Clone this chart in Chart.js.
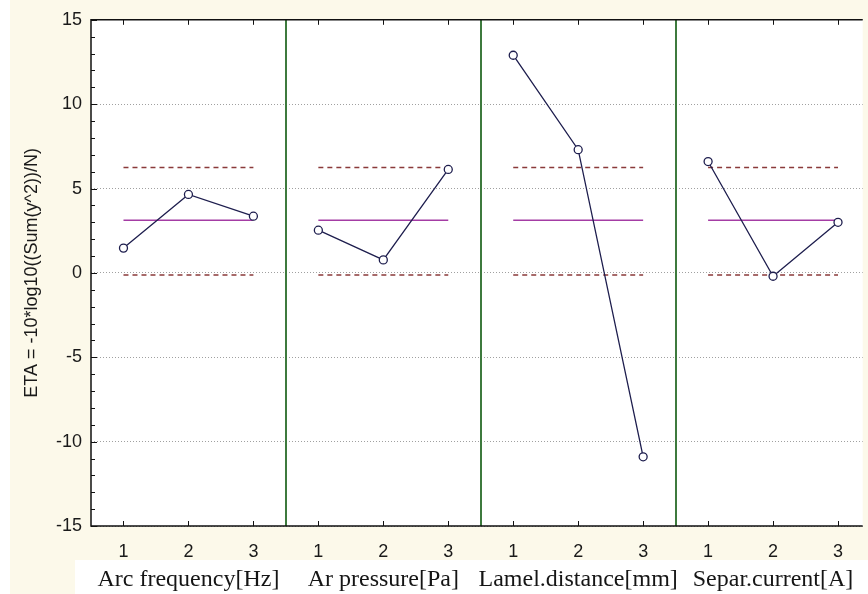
<!DOCTYPE html>
<html>
<head>
<meta charset="utf-8">
<style>
  html, body { margin: 0; padding: 0; background: #ffffff; overflow: hidden; }
  #wrap { width: 868px; height: 594px; }
</style>
</head>
<body>
<div id="wrap">
    <canvas id="etaChart" width="868" height="594"></canvas>
</div>
<script src="https://cdn.jsdelivr.net/npm/chart.js"></script>
<script>
// data
var factorNames = ['Arc frequency[Hz]', 'Ar pressure[Pa]', 'Lamel.distance[mm]', 'Separ.current[A]'];
var levels = [1, 2, 3];
var etaArcFrequency = [1.47, 4.65, 3.36];
var etaArPressure = [2.53, 0.77, 6.13];
var etaLamelDistance = [12.9, 7.3, -10.9];
var etaSeparCurrent = [6.6, -0.2, 3.0];
var grandMean = 3.12;
var upperLimit = 6.25;
var lowerLimit = -0.13;
var yTicks = [-15, -10, -5, 0, 5, 10, 15];

var factorEta = [etaArcFrequency, etaArPressure, etaLamelDistance, etaSeparCurrent];
var nLev = levels.length;

// x position of a level inside panel k
function xOf(k, lev) { return k * nLev + lev; }

// horizontal reference line over every panel, broken between panels
function refLine(v) {
    var pts = [];
    factorNames.forEach(function (n, k) {
        pts.push({x: xOf(k, levels[0]), y: v});
        pts.push({x: xOf(k, levels[nLev - 1]), y: v});
        pts.push({x: xOf(k, levels[nLev - 1]) + 0.5, y: null});
    });
    return pts;
}

var datasets = [];
factorEta.forEach(function (vals, k) {
    datasets.push({
        label: factorNames[k],
        data: levels.map(function (l, i) { return {x: xOf(k, l), y: vals[i]}; }),
        borderColor: '#1e1e4e',
        borderWidth: 1.3,
        pointStyle: 'circle',
        pointRadius: 4,
        pointBorderWidth: 1.3,
        pointBorderColor: '#1e1e4e',
        pointBackgroundColor: '#ffffff'
    });
});
datasets.push({
    label: 'mean',
    data: refLine(grandMean),
    borderColor: '#a43ca4',
    borderWidth: 1.5,
    pointRadius: 0,
    spanGaps: false
});
[upperLimit, lowerLimit].forEach(function (v) {
    datasets.push({
        label: 'limit',
        data: refLine(v),
        borderColor: '#8a3a3a',
        borderWidth: 1.5,
        borderDash: [5, 4],
        pointRadius: 0,
        spanGaps: false
    });
});

var panelPlugin = {
    id: 'panels',
    beforeDraw: function (chart) {
        var ctx = chart.ctx, a = chart.chartArea;
        ctx.save();
        ctx.fillStyle = '#ffffff';
        ctx.fillRect(0, 0, chart.width, chart.height);
        ctx.fillStyle = '#fcf9ea';
        ctx.fillRect(10, 0, chart.width - 10, 560);
        ctx.fillRect(10, 560, 65, chart.height - 560);
        ctx.fillStyle = '#ffffff';
        ctx.fillRect(a.left, a.top, a.right - a.left, a.bottom - a.top);
        ctx.restore();
    },
    beforeDatasetsDraw: function (chart) {
        var ctx = chart.ctx, a = chart.chartArea;
        var xs = chart.scales.x, ys = chart.scales.y;
        ctx.save();
        // panel separators
        ctx.strokeStyle = '#3d7a3d';
        ctx.lineWidth = 2;
        for (var k = 1; k < factorNames.length; k++) {
            var xb = Math.round(xs.getPixelForValue(k * nLev + 0.5));
            ctx.beginPath();
            ctx.moveTo(xb, a.top);
            ctx.lineTo(xb, a.bottom);
            ctx.stroke();
        }
        // frame
        ctx.strokeStyle = '#111111';
        ctx.lineWidth = 1.5;
        ctx.beginPath();
        ctx.moveTo(a.right, a.top);
        ctx.lineTo(a.left, a.top);
        ctx.lineTo(a.left, a.bottom);
        ctx.lineTo(a.right, a.bottom);
        ctx.stroke();
        // inner ticks
        ctx.lineWidth = 1;
        for (var v = yTicks[0]; v <= yTicks[yTicks.length - 1]; v++) {
            var y = Math.round(ys.getPixelForValue(v)) + 0.5;
            ctx.beginPath();
            ctx.moveTo(a.left, y);
            ctx.lineTo(a.left + (v % 5 === 0 ? 6 : 4), y);
            ctx.stroke();
        }
        xs.ticks.forEach(function (t) {
            var x = Math.round(xs.getPixelForValue(t.value)) + 0.5;
            ctx.beginPath();
            ctx.moveTo(x, a.bottom);
            ctx.lineTo(x, a.bottom - 5);
            ctx.moveTo(x, a.top);
            ctx.lineTo(x, a.top + 5);
            ctx.stroke();
        });
        ctx.restore();
    },
    afterDraw: function (chart) {
        var ctx = chart.ctx, xs = chart.scales.x;
        ctx.save();
        ctx.fillStyle = '#151515';
        ctx.font = '24px "Liberation Serif", "Times New Roman", serif';
        ctx.textAlign = 'center';
        ctx.textBaseline = 'alphabetic';
        factorNames.forEach(function (name, k) {
            ctx.fillText(name, xs.getPixelForValue(xOf(k, levels[1])), 586);
        });
        ctx.restore();
    }
};

document.addEventListener('DOMContentLoaded', function () {
    var ctx = document.getElementById('etaChart').getContext('2d');
    var chart = new Chart(ctx, {
        type: 'line',
        data: {datasets: datasets},
        plugins: [panelPlugin],
        options: {
            responsive: false,
            animation: false,
            layout: {padding: {top: 17, right: 1, left: 0, bottom: 0}},
            plugins: {
                legend: {display: false},
                tooltip: {enabled: false}
            },
            scales: {
                x: {
                    type: 'linear',
                    min: 0.5,
                    max: 12.38,
                    afterBuildTicks: function (scale) {
                        var t = [];
                        factorNames.forEach(function (n, k) {
                            levels.forEach(function (l) { t.push({value: xOf(k, l)}); });
                        });
                        scale.ticks = t;
                    },
                    afterFit: function (scale) { scale.height = 68; },
                    grid: {display: false, drawTicks: false},
                    border: {display: false},
                    ticks: {
                        padding: 15,
                        color: '#1a1a1a',
                        font: {family: '"Liberation Sans", Arial, sans-serif', size: 18},
                        maxRotation: 0,
                        autoSkip: false,
                        callback: function (v) { return levels[(Math.round(v) - 1) % nLev]; }
                    }
                },
                y: {
                    min: yTicks[0],
                    max: yTicks[yTicks.length - 1],
                    afterBuildTicks: function (scale) {
                        scale.ticks = yTicks.map(function (v) { return {value: v}; });
                    },
                    afterFit: function (scale) { scale.width = 91; },
                    grid: {color: '#a0a0a0', lineWidth: 1, drawTicks: false, tickLength: 0},
                    border: {display: false, dash: [1, 2]},
                    ticks: {
                        padding: 9,
                        color: '#1a1a1a',
                        font: {family: '"Liberation Sans", Arial, sans-serif', size: 18}
                    },
                    title: {
                        display: true,
                        text: 'ETA = -10*log10((Sum(y^2))/N)',
                        color: '#1a1a1a',
                        font: {family: '"Liberation Sans", Arial, sans-serif', size: 18},
                        padding: {top: 21, bottom: 0}
                    }
                }
            }
        }
    });
});
</script>
</body>
</html>
